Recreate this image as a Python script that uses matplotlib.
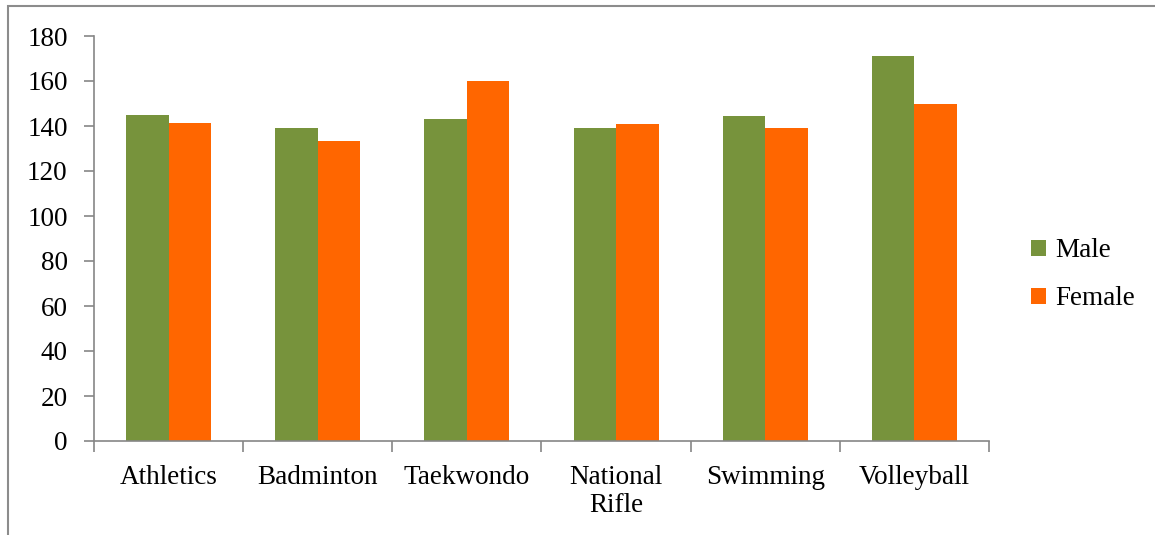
import matplotlib.pyplot as plt
import numpy as np
from matplotlib.patches import Rectangle

sports = ["Athletics", "Badminton", "Taekwondo", "National\nRifle", "Swimming", "Volleyball"]
male = [145, 139, 143, 139, 144.5, 171]
female = [141.5, 133.5, 160, 141, 139, 150]
yticks = [0, 20, 40, 60, 80, 100, 120, 140, 160, 180]

plt.rcParams['font.family'] = ['Liberation Serif', 'DejaVu Serif']

fig = plt.figure(figsize=(11.55, 5.35), dpi=100)
ax = fig.add_axes([94/1155, 1-441/535, (989-94)/1155, (441-36)/535])

# outer chart frame, cut off on the right and bottom like the reference
fig.patches.append(Rectangle((8/1155, -0.1), 1.2, 1-6/535+0.1, transform=fig.transFigure,
                             fill=False, edgecolor='#8c8c8c', linewidth=1.5))

x = np.arange(len(sports))
w = 0.285
ax.bar(x - w/2, male, w, color='#77933C', label='Male')
ax.bar(x + w/2, female, w, color='#FF6600', label='Female')

ax.set_xlim(-0.5, len(sports) - 0.5)
ax.set_ylim(0, 180)
ax.set_yticks(yticks)
ax.set_xticks(np.arange(len(sports) + 1) - 0.5, minor=False)
ax.set_xticklabels([])
ax.set_xticks(x, minor=True)
ax.set_xticklabels(sports, minor=True, fontsize=19.5, linespacing=1.15)
ax.tick_params(axis='x', which='minor', length=0, pad=17.5)
ax.tick_params(axis='x', which='major', length=8, color='#868686', width=1.2)
ax.tick_params(axis='y', length=7, color='#868686', width=1.2, labelsize=19.5, pad=12)

for s in ['top', 'right']:
    ax.spines[s].set_visible(False)
for s in ['left', 'bottom']:
    ax.spines[s].set_color('#868686')
    ax.spines[s].set_linewidth(1.2)

ax.legend(loc='center left', bbox_to_anchor=(1.047, 0.41), frameon=False, fontsize=19.5,
          handlelength=0.55, handleheight=0.55, handletextpad=0.35, labelspacing=0.85,
          borderaxespad=0, borderpad=0)

fig.savefig('out.png', dpi=100)
